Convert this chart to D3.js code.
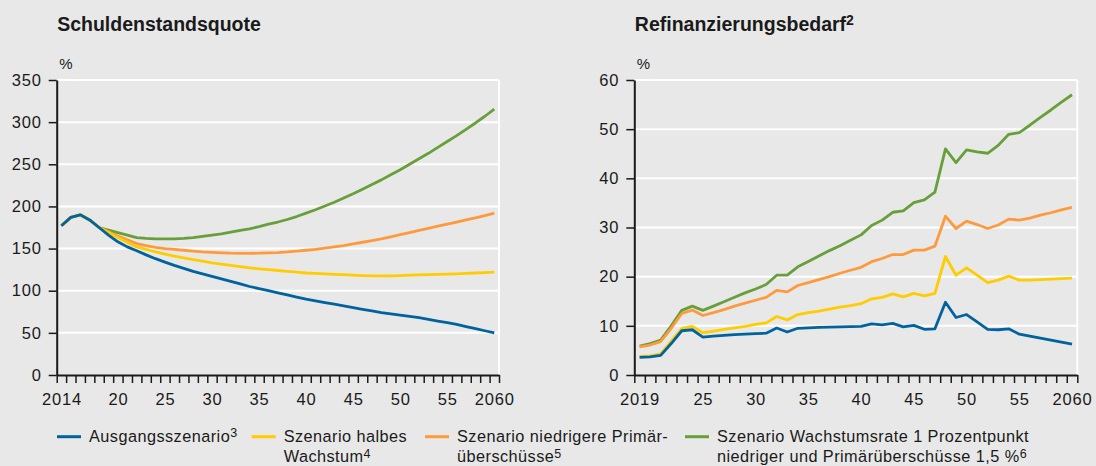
<!DOCTYPE html>
<html><head><meta charset="utf-8">
<script src="https://cdn.jsdelivr.net/npm/d3@7"></script>
<style>
html,body{margin:0;padding:0;background:#e8e8e8;}
svg{display:block;font-family:"Liberation Sans",Arial,sans-serif;}
</style></head><body>
<svg id="c" width="1096" height="466"></svg>
<script>
// ---------- DATA ----------
const yearsDebt = [2014,2015,2016,2017,2018,2019,2020,2021,2022,2023,2024,2025,2026,2027,2028,2029,2030,2031,2032,2033,2034,2035,2036,2037,2038,2039,2040,2041,2042,2043,2044,2045,2046,2047,2048,2049,2050,2051,2052,2053,2054,2055,2056,2057,2058,2059,2060];
const debtBase   = [177,187,190,184,175,166,158,152,147.5, 142.5,138,134,130,126.5,123,120,117,114,111, 108,105,102.5,100,97.5,95,92.5,90,88,86, 84,82,80,78,76,74,72.5,71,69.5,68, 66,64,62,60,57.5,55,52.5,50];
const debtHalf   = [177,187,190,184,175,169,163,157.5,152, 149,146,143.5,141,139,137,135,133,131.5,130, 128.5,127,126,125,124,123,122,121,120.5,120, 119.5,119,118.5,118,117.5,117.5,117.5,118,118.5,118.8, 119,119.3,119.6,120,120.5,121,121.5,122];
const debtLow    = [177,187,190,184,175,170,165,160.5,156, 153.5,151.5,150,149,148,147,146,145.5,145,144.5, 144.3,144.3,144.5,145,145.3,146,147,148,149,150.5, 152,153.5,155.5,157.5,159.5,161.5,164,166.5,169,171.5, 174,176.5,179,181.5,184,186.5,189,192];
const debtGrowth = [177,187,190,184,175,172,169,166,163, 162,161.5,161.5,161.5,162,163,164.5,166,167.5,169.5, 171.5,173.5,176,179,181.5,184.5,188,192,196,200.5, 205,210,215,220.5,226,231.5,237.5,243.5,250,256.5, 263,270,277,284,291.5,299,307,315.5];
const debtTicks = [0,50,100,150,200,250,300,350];
const debtLabelYears = [2014,2020,2025,2030,2035,2040,2045,2050,2055,2060];

const yearsRefi = [2019,2020,2021,2022,2023,2024,2025,2026,2027,2028,2029,2030,2031,2032,2033,2034,2035,2036,2037,2038,2039,2040,2041,2042,2043,2044,2045,2046,2047,2048,2049,2050,2051,2052,2053,2054,2055,2056,2057,2058,2059,2060];
const refiBase   = [3.6,3.7,4.0,6.4,9.0,9.2,7.7,7.9,8.05,8.2, 8.3,8.4,8.5,9.55,8.75,9.5,9.6,9.7,9.75,9.8, 9.85,9.9,10.4,10.2,10.5,9.8,10.1,9.3,9.4,14.8, 11.7,12.3,10.8,9.3,9.2,9.4,8.3,7.9,7.5,7.1, 6.7,6.3];
const refiHalf   = [3.8,3.9,4.3,6.9,9.5,9.9,8.6,8.9,9.3,9.6, 9.9,10.3,10.6,11.9,11.2,12.3,12.7,13.0,13.4,13.8, 14.1,14.5,15.5,15.8,16.5,15.9,16.6,16.1,16.6,24.1, 20.3,21.8,20.3,18.8,19.3,20.1,19.3,19.3,19.4,19.5, 19.6,19.7];
const refiLow    = [5.7,6.1,6.8,9.5,12.5,13.2,12.1,12.7,13.3,14.0, 14.6,15.2,15.8,17.2,16.9,18.2,18.8,19.4,20.0,20.7, 21.3,21.9,23.05,23.7,24.5,24.5,25.4,25.4,26.2,32.3, 29.8,31.3,30.6,29.8,30.5,31.7,31.5,31.9,32.5,33.0, 33.6,34.1];
const refiGrowth = [5.9,6.4,7.1,10.0,13.15,14.0,13.15,14.0,14.9,15.8, 16.7,17.5,18.4,20.3,20.3,22.0,23.1,24.2,25.3,26.3, 27.4,28.5,30.4,31.5,33.1,33.4,35.05,35.6,37.2,46.0, 43.2,45.8,45.4,45.1,46.7,48.95,49.3,50.8,52.4,53.9, 55.5,57.0];
const refiTicks = [0,10,20,30,40,50,60];
const refiLabelYears = [2019,2025,2030,2035,2040,2045,2050,2055,2060];

const seriesNames = ["Ausgangsszenario","Szenario halbes Wachstum","Szenario niedrigere Primärüberschüsse","Szenario Wachstumsrate 1 Prozentpunkt niedriger und Primärüberschüsse 1,5 %"];
const colors = ["#00639f","#ffcc00","#ff9a3c","#67a03a"];

// ---------- DRAW ----------
const BG = "#e8e8e8", INK = "#1a1a1a";
const svg = d3.select("#c");
svg.append("rect").attr("width",1096).attr("height",466).attr("fill",BG);

function panel(o){
  const x = d3.scaleLinear().domain([o.years[0]-0.5, o.years[o.years.length-1]+0.5]).range([o.left,o.right]);
  const y = d3.scaleLinear().domain([0,o.yMax]).range([o.bottom,o.top]);
  const g = svg.append("g");
  g.selectAll("line.grid").data(o.yTicks.filter(d=>d>0)).join("line")
    .attr("x1",o.left).attr("x2",o.right).attr("y1",d=>y(d)).attr("y2",d=>y(d))
    .attr("stroke","#fff").attr("stroke-width",2);
  g.append("line").attr("x1",o.right).attr("x2",o.right).attr("y1",y(o.yMax)).attr("y2",y(0))
    .attr("stroke","#fff").attr("stroke-width",2);
  const line = d3.line().x((d,i)=>x(o.years[i])).y(d=>y(d));
  [3,2,1,0].forEach(k=>{
    g.append("path").datum(o.series[k]).attr("d",line).attr("fill","none")
      .attr("stroke",colors[k]).attr("stroke-width",2.8).attr("stroke-linejoin","round");
  });
  const ya = g.append("g").attr("transform",`translate(${o.left},0)`)
    .call(d3.axisLeft(y).tickValues(o.yTicks).tickSize(8).tickSizeOuter(0).tickPadding(7));
  const bounds = o.years.map(d=>d-0.5).concat([o.years[o.years.length-1]+0.5]);
  const xa = g.append("g").attr("transform",`translate(0,${o.bottom})`)
    .call(d3.axisBottom(x).tickValues(bounds).tickSize(8).tickSizeOuter(0).tickFormat(""));
  const first = o.years[0], last = o.years[o.years.length-1];
  const xl = g.append("g").attr("transform",`translate(0,${o.bottom})`)
    .call(d3.axisBottom(x).tickValues(o.labelYears).tickSize(0).tickPadding(18)
      .tickFormat(d=> (d===first||d===last) ? String(d) : String(d).slice(2)));
  xl.select(".domain").remove();
  [ya,xa,xl].forEach(a=>{
    a.select(".domain").attr("stroke",INK).attr("stroke-width",2);
    a.selectAll(".tick line").attr("stroke",INK).attr("stroke-width",1.5);
    a.selectAll("text").attr("font-size","16.5px").attr("fill",INK)
      .attr("font-family","'Liberation Sans',Arial,sans-serif").style("letter-spacing","0.8px");
  });
  const t = g.append("text").attr("x",o.left+0.5).attr("y",31).attr("font-size","19.5px")
    .attr("font-weight","bold").attr("fill",INK).text(o.title);
  if(o.sup) t.append("tspan").attr("font-size","14px").attr("dy",-6).text(o.sup);
  g.append("text").attr("x",o.left+2.5).attr("y",69).attr("font-size","15px").attr("fill",INK).text("%");
}

panel({left:56.7,right:499,top:80,bottom:375,years:yearsDebt,yMax:350,yTicks:debtTicks,
  labelYears:debtLabelYears,series:[debtBase,debtHalf,debtLow,debtGrowth],title:"Schuldenstandsquote"});
panel({left:634.3,right:1077.3,top:80,bottom:375,years:yearsRefi,yMax:60,yTicks:refiTicks,
  labelYears:refiLabelYears,series:[refiBase,refiHalf,refiLow,refiGrowth],title:"Refinanzierungsbedarf",sup:"2"});

// legend
const legendItems = [
  {x:57,  lines:[["Ausgangsszenario","3"]]},
  {x:251.7, lines:[["Szenario halbes",""],["Wachstum","4"]]},
  {x:425, lines:[["Szenario niedrigere Primär-",""],["überschüsse","5"]]},
  {x:685, lines:[["Szenario Wachstumsrate 1 Prozentpunkt",""],["niedriger und Primärüberschüsse 1,5 %","6"]]}
];
const lg = svg.append("g");
legendItems.forEach((it,k)=>{
  lg.append("line").attr("x1",it.x).attr("x2",it.x+24).attr("y1",436.7).attr("y2",436.7)
    .attr("stroke",colors[k]).attr("stroke-width",3);
  it.lines.forEach((ln,j)=>{
    const t = lg.append("text").attr("x",it.x+32).attr("y",441.7+j*20.6)
      .attr("font-size","16.3px").attr("fill",INK).style("letter-spacing","0.45px").text(ln[0]);
    if(ln[1]) t.append("tspan").attr("font-size","12.5px").attr("dy",-4.5).text(ln[1]);
  });
});
</script>
</body></html>
